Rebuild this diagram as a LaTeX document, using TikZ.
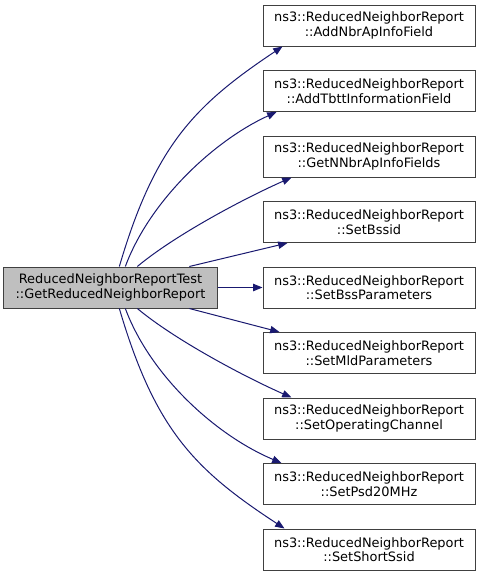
\documentclass[tikz,border=0pt]{standalone}
\usepackage{fontspec}
\setmainfont{DejaVu Sans}
\usetikzlibrary{calc, arrows.meta}
\definecolor{edgeColor}{HTML}{191970}
\definecolor{focusFill}{HTML}{BFBFBF}
\definecolor{boxLine}{HTML}{404040}

\begin{document}
\begin{tikzpicture}[x=0.75pt, y=-0.75pt,
    fn/.style={draw=boxLine, line width=0.75pt, minimum width=159pt, minimum height=30.75pt,
        align=center, inner sep=0pt, font=\fontsize{9.7}{10.8}\selectfont},
    call/.style={draw=edgeColor, line width=0.75pt, -{Triangle[length=7pt,width=5.5pt]}}]
    \fill[white] (0,0) rectangle (480,575);
    \useasboundingbox (0,0) rectangle (480,575);
    \node[fn, fill=focusFill, minimum width=160pt] (main) at (110.5,287.5)
        {ReducedNeighborReportTest\\::GetReducedNeighborReport};
    \foreach \name/\txt [count=\i from 0] in {nbr/AddNbrApInfoField, tbtt/AddTbttInformationField,
        nnbr/GetNNbrApInfoFields, bssid/SetBssid, bsspar/SetBssParameters, mld/SetMldParameters,
        opch/SetOperatingChannel, psd/SetPsd20MHz, ssid/SetShortSsid}
        \node[fn] (\name) at (369,{25.5+65.5*\i}) {ns3::ReducedNeighborReport\\::\txt};
    % upper calls
    \draw[call] ($(main.north west)+(116,0)$) .. controls (155,145) and (195,105) .. ($(nbr.south west)+(20,0)$);
    \draw[call] ($(main.north west)+(122,0)$) .. controls (150,200) and (215,140) .. ($(tbtt.south west)+(14,0)$);
    \draw[call] ($(main.north west)+(134,0)$) .. controls (175,235) and (245,198) .. ($(nnbr.south west)+(29,0)$);
    \draw[call] ($(main.north west)+(186,0)$) -- ($(bssid.south west)+(25,0)$);
    \draw[call] (main.east) -- (bsspar.west);
    % lower calls
    \draw[call] ($(main.south west)+(186,0)$) -- ($(mld.north west)+(17,0)$);
    \draw[call] ($(main.south west)+(134,0)$) .. controls (175,340) and (245,377) .. ($(opch.north west)+(29,0)$);
    \draw[call] ($(main.south west)+(122,0)$) .. controls (150,375) and (215,435) .. ($(psd.north west)+(19,0)$);
    \draw[call] ($(main.south west)+(116,0)$) .. controls (155,430) and (195,470) .. ($(ssid.north west)+(22,0)$);
\end{tikzpicture}
\end{document}
